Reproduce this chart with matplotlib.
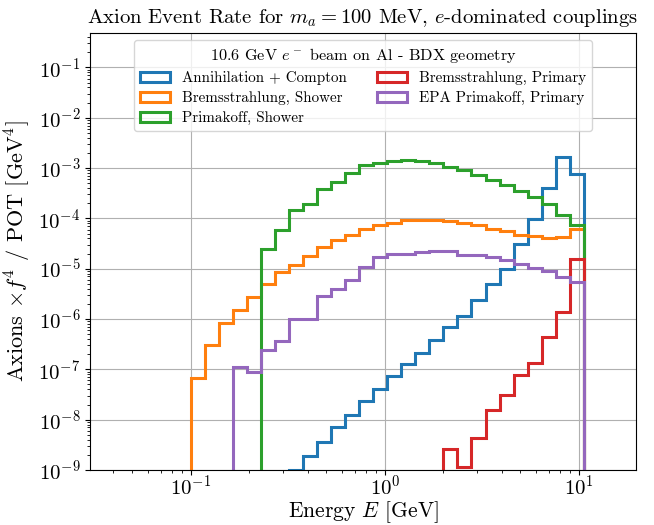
import matplotlib
matplotlib.use('Agg')
import matplotlib.pyplot as plt
import numpy as np

plt.rcParams.update({
    'font.family': 'serif',
    'font.serif': ['cmr10'],
    'mathtext.fontset': 'cm',
    'axes.formatter.use_mathtext': True,
    'axes.unicode_minus': False,
    'font.size': 14,
})

# log-spaced energy bins from 0.1 GeV up to the beam energy
beam_energy = 10.6
edges = np.logspace(-1, np.log10(beam_energy), 29)

annihilation_compton = [0, 0, 0, 0, 0, 0, 0, 1.0e-9, 1.9e-9, 3.6e-9, 7.1e-9, 1.25e-8, 2.3e-8, 4.0e-8,
                        7.3e-8, 1.29e-7, 2.15e-7, 3.85e-7, 6.9e-7, 1.17e-6, 2.35e-6, 5.0e-6, 1.0e-5, 3.1e-5,
                        9.7e-5, 4.1e-4, 1.65e-3, 7.7e-4]
brems_shower = [6.7e-8, 3.0e-7, 8.3e-7, 1.5e-6, 2.8e-6, 4.9e-6, 8.5e-6, 1.2e-5, 1.8e-5, 2.7e-5, 3.8e-5,
                4.6e-5, 6.2e-5, 7.3e-5, 8.1e-5, 9.1e-5, 9.3e-5, 9.3e-5, 9.0e-5, 8.1e-5, 7.3e-5, 6.2e-5,
                5.5e-5, 4.7e-5, 4.4e-5, 4.0e-5, 4.2e-5, 6.1e-5]
primakoff_shower = [0, 0, 0, 0, 0, 2.5e-5, 6.0e-5, 1.45e-4, 1.9e-4, 3.8e-4, 5.2e-4, 8.1e-4, 1.13e-3,
                    1.27e-3, 1.38e-3, 1.47e-3, 1.4e-3, 1.26e-3, 1.05e-3, 9.3e-4, 7.4e-4, 5.7e-4, 4.7e-4,
                    3.5e-4, 2.65e-4, 1.95e-4, 1.14e-4, 7.4e-5]
brems_primary = [0, 0, 0, 0, 0, 0, 0, 0, 0, 0, 0, 0, 0, 0, 0, 0, 0, 0, 2.6e-9, 1.17e-9, 4.4e-9, 1.55e-8,
                 3.1e-8, 7.6e-8, 1.36e-7, 4.3e-7, 1.35e-6, 1.55e-5]
epa_primakoff = [0, 0, 0, 1.1e-7, 8.7e-8, 2.45e-7, 3.7e-7, 1.0e-6, 1.0e-6, 2.9e-6, 3.9e-6, 5.9e-6, 1.1e-5,
                 1.7e-5, 1.95e-5, 2.0e-5, 2.1e-5, 2.2e-5, 2.2e-5, 1.9e-5, 1.86e-5, 1.7e-5, 1.5e-5, 1.26e-5,
                 1.03e-5, 8.8e-6, 6.7e-6, 5.4e-6]

series = [
    (annihilation_compton, 'Annihilation + Compton', 'tab:blue'),
    (brems_shower, 'Bremsstrahlung, Shower', 'tab:orange'),
    (primakoff_shower, 'Primakoff, Shower', 'tab:green'),
    (brems_primary, 'Bremsstrahlung, Primary', 'tab:red'),
    (epa_primakoff, 'EPA Primakoff, Primary', 'tab:purple'),
]

fig = plt.figure(figsize=(6.54, 5.25), dpi=100)
ax = fig.add_axes([0.1376, 0.1048, 0.835, 0.833])
ax.set_xscale('log')
ax.set_yscale('log')

for vals, label, color in series:
    ax.hist(edges[:-1], bins=edges, weights=vals, histtype='step', lw=2.2,
            color=color, label=label)

ax.set_xlim(0.0303, 19.7)
ax.set_ylim(1e-9, 0.49)
ax.grid(True, which='major', color='#b0b0b0', lw=0.8)
ax.tick_params(labelsize=15)
ax.tick_params(axis='x', pad=0)

ax.set_title(r'Axion Event Rate for $m_a = 100$ MeV, $e$-dominated couplings', fontsize=14.9, pad=7)
ax.set_xlabel(r'Energy $E$ [GeV]', fontsize=15.5, labelpad=0)
ax.set_ylabel(r'Axions $\times f^4$ / POT [GeV$^4$]', fontsize=16)

ax.legend(loc='upper center', ncol=2, fontsize=10.85, title_fontsize=11.7,
          title=r'10.6 GeV $e^-$ beam on Al - BDX geometry',
          labelspacing=0.4, handlelength=2.0, columnspacing=2.0)

fig.savefig('out.png', dpi=100)
